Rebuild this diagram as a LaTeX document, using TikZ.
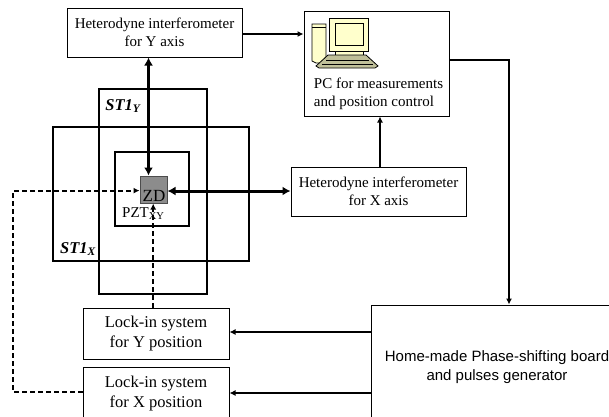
\documentclass[tikz,border=0pt]{standalone}
\usepackage{fontspec}
\setmainfont{Liberation Serif}
\newfontfamily\arialfont{Liberation Sans}
\usetikzlibrary{arrows.meta,positioning}
\definecolor{pcyellow}{HTML}{FFFFCC}
\tikzset
{
    labelbox/.style = {rectangle, draw=black, line width=1pt, align=center, inner sep=0pt, font=\fontsize{15}{18}\selectfont},
    lockbox/.style = {labelbox, font=\fontsize{16.5}{19.5}\selectfont},
    stagebox/.style = {rectangle, draw=black, line width=1.4pt, inner sep=0pt},
    stagename/.style = {font=\fontsize{16.5}{18}\selectfont\bfseries\itshape, inner sep=0pt},
    signal/.style = {line width=1.8pt, -{Latex[length=6pt,width=6pt]}},
    beam/.style = {line width=3pt, {Latex[length=8pt,width=9pt]}-{Latex[length=8pt,width=9pt]}},
    lockline/.style = {line width=2pt, dash pattern=on 5pt off 3pt, -{Latex[length=6pt,width=6pt]}},
    pcpart/.style = {draw=black, line width=0.8pt, fill=pcyellow}
}
\begin{document}
\begin{tikzpicture}[x=1pt,y=-1pt]
\useasboundingbox (0,0) rectangle (609,416);
% stages
\node[stagebox, minimum width=108pt, minimum height=205pt] (styaxis) at (153,191.5) {};
\node[stagebox, minimum width=196pt, minimum height=134pt] (stxaxis) at (151,194) {};
\node[stagebox, line width=2.2pt, minimum width=74pt, minimum height=74pt] (pzt) at (152,189) {};
\node[rectangle, draw=black!70, line width=1pt, fill=black!45, minimum width=27pt, minimum height=27pt, inner sep=0pt] (zd) at (153.5,189.5) {};
\node[font=\fontsize{17}{17}\selectfont, inner sep=0pt] (zdtext) at (154,196) {ZD};
\node[font=\fontsize{15}{15}\selectfont, inner sep=0pt, anchor=west] (pzttext) at (122,214) {PZT\textsubscript{XY}};
\node[stagename] (stytext) at (123,106) {ST1\textsubscript{Y}};
\node[stagename] (stxtext) at (78,249) {ST1\textsubscript{X}};
% boxes
\node[labelbox, minimum width=175pt, minimum height=49pt] (ify) at (154.5,32.5) {Heterodyne interferometer\\for Y axis};
\node[labelbox, minimum width=145pt, minimum height=105pt] (pc) at (376.5,63.5) {};
\node[font=\fontsize{15}{18}\selectfont, align=left, inner sep=0pt] (pctext) at (378.5,94) {PC for measurements\\and position control};
\node[labelbox, minimum width=175pt, minimum height=49pt] (ifx) at (378.5,191.5) {Heterodyne interferometer\\for X axis};
\node[lockbox, minimum width=146pt, minimum height=51pt] (locky) at (156,333.5) {Lock-in system\\for Y position};
\node[lockbox, minimum width=146pt, minimum height=60pt] (lockx) at (156,397) {};
\node[font=\fontsize{16.5}{19.5}\selectfont, align=center, inner sep=0pt] (lockxtext) at (156,393.5) {Lock-in system\\for X position};
\node[labelbox, minimum width=250pt, minimum height=130pt] (board) at (496,370) {};
\node[font=\arialfont\fontsize{15}{19}\selectfont, align=center, inner sep=0pt] (boardtext) at (497,367.5) {Home-made Phase-shifting board\\and pulses generator};
% computer
\draw[pcpart] (312,24) -- (326,24) -- (326,63) -- (316,63) -- (312,61) -- cycle;
\draw[black, line width=0.6pt] (312,27) -- (326,27);
\draw[pcpart] (329,18) rectangle (368,51);
\draw[pcpart] (335,23) rectangle (363,45);
\draw[pcpart] (335,51) rectangle (363,55);
\draw[pcpart, fill=pcyellow!75!black] (328,55) -- (366,55) -- (378,66) -- (375,68) -- (319,68) -- (316,66) -- cycle;
\draw[black, line width=0.6pt] (326,60) -- (369,60) (322,64) -- (373,64);
% connectors
\coordinate (corner) at (509,60);
\coordinate (leftx) at (13,190.6);
\draw[signal] (ify.east |- 0,34) -- (pc.west |- 0,34);
\draw[signal] (ifx.north -| 380,0) -- (pc.south -| 380,0);
\draw[signal] (pc.east |- corner) -- (corner) -- (board.north -| corner);
\draw[beam] (ify.south -| 148.5,0) -- (zd.north -| 148.5,0);
\draw[beam] (zd.east |- 0,191) -- (ifx.west |- 0,191);
\draw[signal] (board.west |- 0,332) -- (locky.east |- 0,332);
\draw[signal] (board.west |- 0,393) -- (lockx.east |- 0,393);
\draw[lockline] (locky.north -| 153.2,0) -- (zd.south -| 153.2,0);
\draw[lockline] (lockx.west |- 0,392) -- (13,392) -- (leftx) -- (zd.west |- leftx);
\end{tikzpicture}
\end{document}
